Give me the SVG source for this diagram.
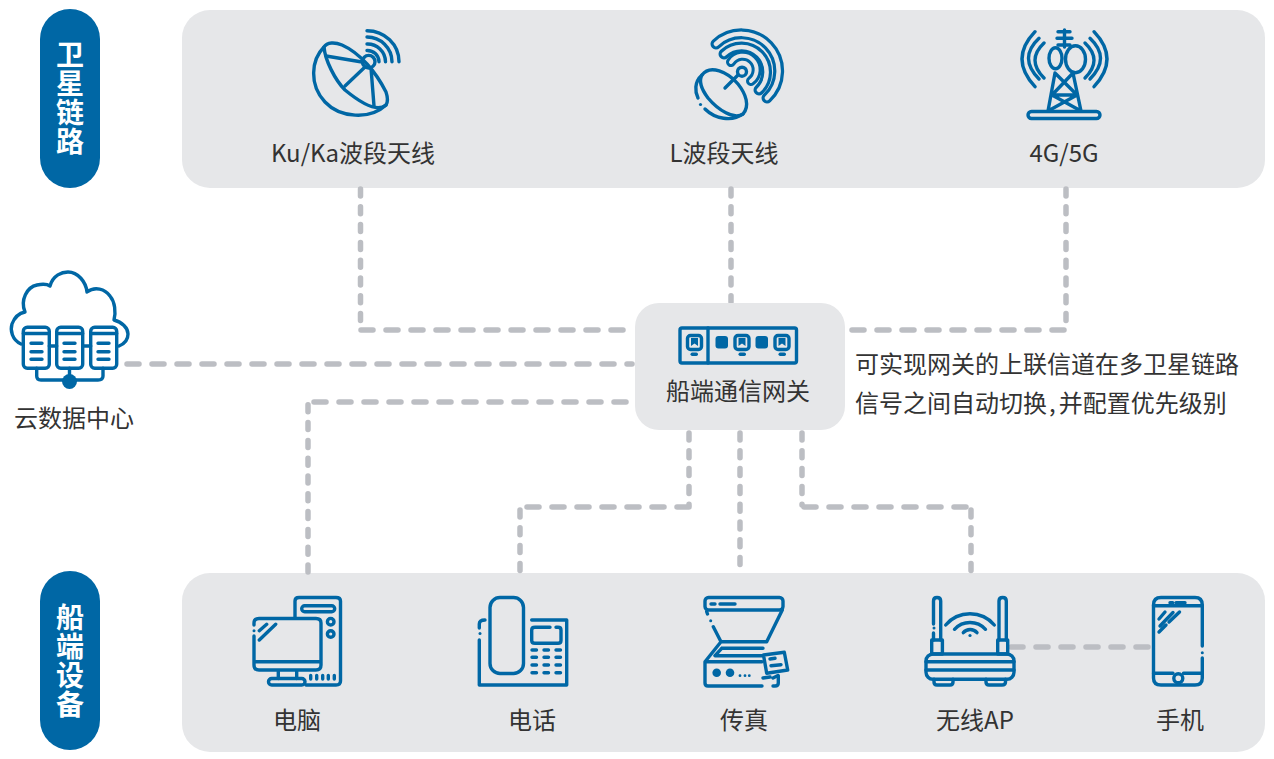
<svg xmlns="http://www.w3.org/2000/svg" width="1274" height="759" viewBox="0 0 1274 759">
<style>
text{font-family:"Noto Sans CJK SC","Noto Sans",sans-serif;font-size:24px;fill:#333;text-anchor:middle}
.w{fill:#fff;font-weight:700;font-size:28px;writing-mode:vertical-rl;letter-spacing:1px;text-anchor:start}
.l{text-anchor:start}
.p{fill:#e6e7e9}
.i{fill:none;stroke:#0067a5;stroke-width:3.400;stroke-linecap:round;stroke-linejoin:round}
.f{fill:#0067a5;stroke:none}
.c{fill:none;stroke:#bcbec3;stroke-width:5.500;stroke-linecap:round}
.v{stroke-dasharray:7 10.800}
.h{stroke-dasharray:12 13}
</style>
<rect width="1274" height="759" fill="#fff"/>
<g id="panel-satellite"><rect class="p" x="182" y="10" width="1083" height="178" rx="28"/></g>
<g id="panel-devices"><rect class="p" x="182" y="573" width="1083" height="179" rx="28"/></g>
<g id="connectors">
<path class="c v" d="M360.500 189V328"/><path class="c h" d="M361 330H632"/>
<path class="c v" d="M731 189V302"/>
<path class="c v" d="M1066 189V328"/><path class="c h" d="M1064 330H848"/>
<path class="c h" d="M127 364H632"/>
<path class="c v" d="M308 572V404"/><path class="c h" d="M314 402H636"/>
<path class="c v" d="M689 433V505"/><path class="c h" d="M689 507H523"/><path class="c v" d="M520 510V572"/>
<path class="c v" d="M740 433V572"/>
<path class="c v" d="M802 433V505"/><path class="c h" d="M804 507H968"/><path class="c v" d="M971 510V572"/>
<path class="c h" d="M1011 647H1152"/>
</g>
<g id="label-satellite"><rect x="40" y="9" width="60" height="179" rx="30" fill="#0067a5"/>
<text class="w" x="70" y="40">卫星链路</text></g>
<g id="label-devices"><rect x="40" y="571" width="60" height="179" rx="30" fill="#0067a5"/>
<text class="w" x="70" y="603">船端设备</text></g>

<g id="node-kuka">
<g class="i"><circle cx="368.700" cy="61.700" r="6.300"/>
<path d="M324 47C327 42 335 42 342 45C360 53 376 72 386 92C388 98 388 102 386 105C378 112 362 104 345 90C335 80 325 60 324 47Z"/>
<path d="M324 47C311 60 309 85 325 102C340 118 370 120 386 105"/>
<path d="M326 56L362 62M345 86L365 67M371 68L374 106"/>
<path d="M367 30.700A32 31 0 0 1 399 61.700M367 37A25 25 0 0 1 392 61.700M367 44A18 18 0 0 1 385.500 61.700M367 50.500A11.500 11.500 0 0 1 379 61.700"/></g>
<text x="353" y="162">Ku/Ka波段天线</text></g>

<g id="node-l">
<g fill="none" stroke-linecap="round"><path d="M716 44A37 37 0 1 1 767 98" stroke="#0067a5" stroke-width="11"/><path d="M716 44A37 37 0 1 1 767 98" stroke="#e6e7e9" stroke-width="4.500"/>
<path d="M724 54A25 25 0 1 1 759 90" stroke="#0067a5" stroke-width="11"/><path d="M724 54A25 25 0 1 1 759 90" stroke="#e6e7e9" stroke-width="4.500"/>
<path d="M731 62A14 14 0 1 1 751 81" stroke="#0067a5" stroke-width="10"/><path d="M731 62A14 14 0 1 1 751 81" stroke="#e6e7e9" stroke-width="4"/></g>
<g class="i"><circle cx="742" cy="71.700" r="4.500"/><path d="M738 75L725 88"/>
<path d="M702 75C710 64 728 72 738 84C746 94 750 106 743 114C734 120 718 110 708 98C702 90 698 82 702 75Z"/>
<path d="M702 75C694 82 695 92 698 98M705 109C715 119 732 122 743 114"/></g>
<circle class="f" cx="700.500" cy="104.500" r="1.600"/>
<text x="724" y="162">L波段天线</text></g>

<g id="node-4g">
<g class="i"><path d="M1064.500 30V47M1058 31.700H1070M1057 38.300H1072M1058 45H1070"/>
<ellipse cx="1055.500" cy="58.300" rx="6.500" ry="10.500"/><ellipse cx="1075.500" cy="59.300" rx="10" ry="13.500"/>
<path d="M1055 73L1048 111M1073 73L1081 111M1052 95H1077M1055 73L1077 95M1073 73L1052 95M1052 95L1081 111M1077 95L1048 111"/>
<rect x="1028" y="111.500" width="72" height="7" rx="3.500"/>
<path d="M1035 31.700Q1009 59 1035 86.700M1039 38.300Q1018 58 1039 79M1044 43Q1026 60 1044 78"/>
<path d="M1094 31.700Q1120 59 1094 86.700M1090 38.300Q1111 58 1090 79M1085 43Q1103 60 1085 78"/></g>
<text x="1064" y="162">4G/5G</text></g>

<g id="node-cloud">
<g class="i"><path d="M21 344C12 340 10 330 12 324C15 316 20 313 25 312C20 300 27 287 37 285C42 284 47 284 50 286C53 275 62 272 68 272C78 272 86 282 87 292C95 286 105 289 110 296C115 302 116 312 114 320C122 322 128 328 128 334C128 340 124 344 119 346"/>
<rect x="23.300" y="327.300" width="26" height="41" rx="4" fill="#fff"/><rect x="56.700" y="327.300" width="26" height="41" rx="4" fill="#fff"/><rect x="90.700" y="327.300" width="26" height="41" rx="4" fill="#fff"/>
<path d="M23.300 333.500H49.300M56.700 333.500H82.700M90.700 333.500H116.700M49.300 346H56.700M82.700 346H90.700M36.700 368.300V376Q36.700 380 41 380H98Q103 380 103 376V368.300M69.500 368.300V380"/>
<path d="M31 343.300H42M31 351.700H42M31 359.300H42M64 343.300H75M64 351.700H75M64 359.300H75M98 343.300H109M98 351.700H109M98 359.300H109"/></g>
<circle class="f" cx="69.500" cy="381.500" r="7.500"/>
<text x="74" y="427">云数据中心</text></g>

<g id="node-gateway"><rect class="p" x="635" y="303" width="210" height="127" rx="24"/>
<g class="i"><rect x="680" y="328" width="116.500" height="35" rx="2"/><path d="M708 328V363"/>
<rect x="687.500" y="335.500" width="14" height="14" rx="3"/><rect x="735" y="335.500" width="14" height="14" rx="3"/><rect x="775" y="335.500" width="14" height="14" rx="3"/></g>
<path class="f" d="M691 338H698V346L694.500 343.500L691 346ZM738.500 338H745.500V346L742 343.500L738.500 346ZM778.500 338H785.500V346L782 343.500L778.500 346Z"/>
<rect class="f" x="715.500" y="336" width="12.500" height="12.500" rx="3"/><rect class="f" x="755.500" y="336" width="12.500" height="12.500" rx="3"/>
<rect class="f" x="690.500" y="352.500" width="7.500" height="3.500" rx="1.700"/><rect class="f" x="738.500" y="352.500" width="7.500" height="3.500" rx="1.700"/><rect class="f" x="778.500" y="352.500" width="7.500" height="3.500" rx="1.700"/>
<text x="738" y="400">船端通信网关</text></g>

<g id="note"><text class="l" x="855" y="373">可实现网关的上联信道在多卫星链路</text>
<text class="l" x="855" y="412">信号之间自动切换<tspan dx="2">,</tspan><tspan dx="3">并配置优先级别</tspan></text></g>

<g id="node-pc">
<g class="i"><path d="M295 618V601Q295 597.500 299 597.500H336Q340.500 597.500 340.500 601V681Q340.500 685 336 685H306"/>
<rect x="301.700" y="605.700" width="33" height="6" rx="3"/><circle cx="330.700" cy="621.700" r="3.300"/><circle cx="330.700" cy="634" r="3.300"/>
<path d="M254 625V623Q254 618.500 259 618.500H316Q321 618.500 321 623V665Q321 670 316 670H259Q254 670 254 665V636M254 661.700H321M278.300 670V678.500M296.700 670V678.500M259.300 630.700L266.700 624.300M259.300 640L275.700 624.300M310.700 675.500V679M316.700 675.500V679M322.700 675.500V679M328.300 675.500V679M334.300 675.500V679"/>
<rect x="268.500" y="678.500" width="36.500" height="6.500" rx="3.200"/></g>
<circle class="f" cx="254" cy="630.700" r="1.500"/>
<text x="297" y="729">电脑</text></g>

<g id="node-tel">
<g class="i"><rect x="490" y="597.500" width="33.500" height="76" rx="10"/>
<path d="M479.300 640V685H566.700V620H531.700M479.300 628V624Q479.300 620 485 620"/>
<path d="M550 627.300H535Q531.700 627.300 531.700 630V640.500Q531.700 643.300 535 643.300H558Q561 643.300 561 640.500V630Q561 627.300 558 627.300H556"/>
<path d="M532 650H536.500M544 650H548.500M556 650H560.500M532 657.300H536.500M544 657.300H548.500M556 657.300H560.500M532 665H536.500M544 665H548.500M556 665H560.500M532 672.700H536.500M544 672.700H548.500M556 672.700H560.500"/></g>
<circle class="f" cx="480" cy="633.500" r="1.500"/>
<text x="532" y="729">电话</text></g>

<g id="node-fax">
<g class="i"><rect x="705" y="597.500" width="78" height="12.500" rx="3.500"/>
<path d="M711 604H715M720 604H735M706.700 611.700L707.500 614M713.300 626.700L721 641.700M782.300 610L766.700 641.700M721 641.700H766.700M721 641.700L705 661.700V683Q705 686 708 686H762M705 661.700H762M721.700 648.300H763M721.700 648.300L715 655.700H763M778.300 676V683Q778.300 686 775 686H773"/>
<path d="M763.500 655L784.300 652.300L787.700 670L766.700 673.300Z"/>
<path d="M770 659L775 658.300M771 665.700L781 664.700M763 678L770 677M773 678L778 675.500"/></g>
<circle class="f" cx="710.700" cy="620.700" r="1.500"/>
<circle class="f" cx="716.700" cy="672.700" r="4.300"/><circle class="f" cx="730" cy="672.700" r="4.300"/>
<circle class="f" cx="740" cy="675.700" r="1.400"/><circle class="f" cx="745" cy="675.700" r="1.400"/><circle class="f" cx="749.300" cy="675.700" r="1.400"/>
<text x="744" y="729">传真</text></g>

<g id="node-ap">
<g class="i"><path d="M933.500 624V601Q933.500 597.500 937 597.500Q940.700 597.500 940.700 601V640M933.500 633V640M999 640V601Q999 597.500 1002.700 597.500Q1006.300 597.500 1006.300 601V640"/>
<rect x="931.700" y="640" width="10.700" height="14"/><rect x="997.700" y="640" width="10" height="14"/>
<rect x="926" y="654" width="88" height="25.300" rx="7"/><path d="M926 661.700H1014M926 670H1014"/>
<path d="M934 679.300V682Q934 685 937 685H950Q953 685 953 682V679.300M986 679.300V682Q986 685 989 685H1002Q1005.500 685 1005.500 682V679.300"/>
<path d="M963.300 632.700A9 9 0 0 1 977 632.700M954.500 629.300A21 21 0 0 1 985.500 629.300M945.700 625A32 32 0 0 1 994.300 625"/></g>
<circle class="f" cx="970" cy="635.500" r="1.600"/><circle class="f" cx="934" cy="628" r="1.500"/>
<text x="975" y="729">无线AP</text></g>

<g id="node-mobile">
<g class="i"><path d="M1202.300 646V605Q1202.300 597.500 1195 597.500H1161Q1153.500 597.500 1153.500 605V678Q1153.500 685 1161 685H1195Q1202.300 685 1202.300 678V658"/>
<path d="M1153.500 605.700H1202.300M1153.500 673.300H1173M1183.500 673.300H1202.300M1170 602.700H1172.700M1176 602.700H1185M1159 619L1165 612M1160 626L1173 612.500M1159 632L1166 625M1169 622L1179.500 612"/>
<circle cx="1178.300" cy="678.300" r="4.500"/></g>
<circle class="f" cx="1202.300" cy="652.700" r="1.500"/>
<text x="1180" y="729">手机</text></g>
</svg>
